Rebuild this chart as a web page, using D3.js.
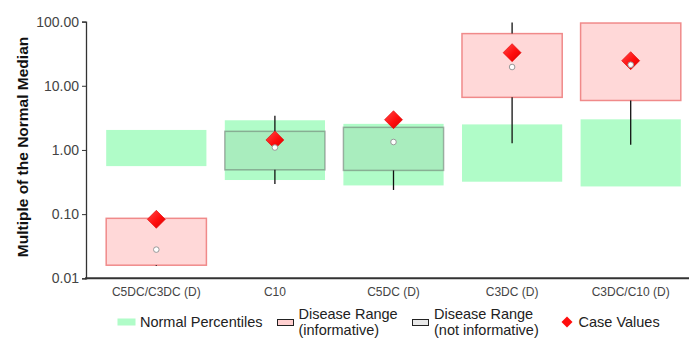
<!DOCTYPE html>
<html>
<head>
<meta charset="utf-8">
<script src="https://cdn.jsdelivr.net/npm/d3@7"></script>
<style>
  body { margin: 0; background: white; }
  svg { display: block; font-family: "Liberation Sans", Arial, sans-serif; }
</style>
</head>
<body>
<div id="chart"></div>
<script>
// Marker ranges per analyte
const categories = ["C5DC/C3DC (D)", "C10", "C5DC (D)", "C3DC (D)", "C3DC/C10 (D)"];
const normalLow = [0.56, 0.34, 0.28, 0.32, 0.27];
const normalHigh = [2.05, 2.9, 2.55, 2.5, 3.0];
const diseaseLow = [0.016, 0.49, 0.48, 6.6, 5.9];
const diseaseHigh = [0.086, 1.95, 2.25, 65, 95];
const diseaseMin = [0.0155, 0.295, 0.238, 1.27, 1.2];
const diseaseMax = [0.09, 3.4, 2.8, 97, 95];
const diseaseMedian = [0.028, 1.09, 1.33, 19.6, 21.3];
const informative = [true, false, false, true, true];
const caseValues = [0.083, 1.43, 2.96, 32.8, 24.6];
const yTicks = [0.01, 0.1, 1, 10, 100];

const width = 689;
const height = 338;

const colours = {
  normal: "#b0fcc8",
  infoFill: "#ffd8d8",
  infoStroke: "#f08a8a",
  notInfoFill: "rgba(110,110,110,0.1)",
  notInfoStroke: "rgba(90,90,90,0.45)",
  axis: "#333",
  text: "#444",
};

let svg = d3
  .select("#chart")
  .append("svg")
  .attr("width", width)
  .attr("height", height);

// gradient for the case value diamonds
let defs = svg.append("defs");
let grad = defs
  .append("linearGradient")
  .attr("id", "diamondGrad")
  .attr("x1", "0%")
  .attr("y1", "0%")
  .attr("x2", "100%")
  .attr("y2", "100%");
grad.append("stop").attr("offset", "0%").attr("stop-color", "#ff4a4a");
grad.append("stop").attr("offset", "55%").attr("stop-color", "#ff0d0d");
grad.append("stop").attr("offset", "100%").attr("stop-color", "#d80000");

const x = d3.scaleBand().domain(categories).range([97, 690]);
const y = d3.scaleLog().domain([0.01, 100]).range([278.3, 21.6]);

const boxWidth = x.bandwidth() * 0.845;
const cx = (d) => x(d) + x.bandwidth() / 2;

const rows = categories.map((c, i) => ({
  cat: c,
  nLow: normalLow[i],
  nHigh: normalHigh[i],
  dLow: diseaseLow[i],
  dHigh: diseaseHigh[i],
  dMin: diseaseMin[i],
  dMax: diseaseMax[i],
  median: diseaseMedian[i],
  info: informative[i],
  value: caseValues[i],
}));

// normal percentile bands
svg
  .append("g")
  .selectAll("rect")
  .data(rows)
  .enter()
  .append("rect")
  .attr("x", (d) => cx(d.cat) - boxWidth / 2)
  .attr("y", (d) => y(d.nHigh))
  .attr("width", boxWidth)
  .attr("height", (d) => y(d.nLow) - y(d.nHigh))
  .attr("fill", colours.normal);

// disease range boxes
svg
  .append("g")
  .selectAll("rect")
  .data(rows)
  .enter()
  .append("rect")
  .attr("x", (d) => cx(d.cat) - boxWidth / 2)
  .attr("y", (d) => y(d.dHigh))
  .attr("width", boxWidth)
  .attr("height", (d) => y(d.dLow) - y(d.dHigh))
  .attr("fill", (d) => (d.info ? colours.infoFill : colours.notInfoFill))
  .attr("stroke", (d) => (d.info ? colours.infoStroke : colours.notInfoStroke))
  .attr("stroke-width", 1.5);

// whiskers, outside the box only
let whiskers = svg.append("g").attr("stroke", "#111").attr("stroke-width", 1.3);
whiskers
  .selectAll(".upper")
  .data(rows.filter((d) => d.dMax > d.dHigh))
  .enter()
  .append("line")
  .attr("x1", (d) => cx(d.cat))
  .attr("x2", (d) => cx(d.cat))
  .attr("y1", (d) => y(d.dHigh))
  .attr("y2", (d) => y(d.dMax));
whiskers
  .selectAll(".lower")
  .data(rows.filter((d) => d.dMin < d.dLow))
  .enter()
  .append("line")
  .attr("x1", (d) => cx(d.cat))
  .attr("x2", (d) => cx(d.cat))
  .attr("y1", (d) => y(d.dLow))
  .attr("y2", (d) => y(d.dMin));

// axes
let yAxis = svg
  .append("g")
  .attr("transform", "translate(86,0)")
  .call(d3.axisLeft(y).tickValues(yTicks).tickFormat(d3.format(".2f")).tickSize(4).tickPadding(3));
yAxis.select(".domain").attr("stroke", colours.axis).attr("stroke-width", 1.3);
yAxis.selectAll(".tick line").attr("stroke", colours.axis);
yAxis
  .selectAll(".tick text")
  .attr("fill", colours.text)
  .style("font-size", "14px")
  .style("font-family", "'Liberation Sans', Arial, sans-serif");

svg
  .append("line")
  .attr("x1", 85)
  .attr("x2", 689)
  .attr("y1", y(0.01))
  .attr("y2", y(0.01))
  .attr("stroke", colours.axis)
  .attr("stroke-width", 2);

svg
  .append("g")
  .selectAll("text")
  .data(categories)
  .enter()
  .append("text")
  .attr("x", (d) => cx(d))
  .attr("y", 295.5)
  .attr("text-anchor", "middle")
  .attr("fill", colours.text)
  .style("font-size", "12px")
  .text((d) => d);

svg
  .append("text")
  .attr("transform", `translate(28,147) rotate(-90)`)
  .attr("text-anchor", "middle")
  .attr("fill", "#111")
  .style("font-size", "15.5px")
  .style("font-weight", "bold")
  .text("Multiple of the Normal Median");

// case value diamonds
const diamondR = 9;
svg
  .append("g")
  .selectAll("path")
  .data(rows)
  .enter()
  .append("path")
  .attr("d", `M0,${-diamondR}L${diamondR},0L0,${diamondR}L${-diamondR},0Z`)
  .attr("transform", (d) => `translate(${cx(d.cat)},${y(d.value)})`)
  .attr("fill", "url(#diamondGrad)")
  .attr("stroke", "#e00000")
  .attr("stroke-width", 0.6);

// disease medians
svg
  .append("g")
  .selectAll("circle")
  .data(rows)
  .enter()
  .append("circle")
  .attr("cx", (d) => cx(d.cat))
  .attr("cy", (d) => y(d.median))
  .attr("r", 2.8)
  .attr("fill", "white")
  .attr("stroke", "#999")
  .attr("stroke-width", 1);

// legend
let legend = svg.append("g").style("font-size", "14.5px").attr("fill", "#222");

legend
  .append("rect")
  .attr("x", 117.5)
  .attr("y", 318.5)
  .attr("width", 18)
  .attr("height", 7)
  .attr("fill", colours.normal);
legend.append("text").attr("x", 140).attr("y", 327.3).text("Normal Percentiles");

legend
  .append("rect")
  .attr("x", 277.5)
  .attr("y", 319.5)
  .attr("width", 16)
  .attr("height", 6)
  .attr("fill", "#ffd0d0")
  .attr("stroke", "#222")
  .attr("stroke-width", 1);
legend.append("text").attr("x", 298.5).attr("y", 318.7).text("Disease Range");
legend.append("text").attr("x", 298.5).attr("y", 335.3).text("(informative)");

legend
  .append("rect")
  .attr("x", 412.5)
  .attr("y", 319.5)
  .attr("width", 16)
  .attr("height", 6)
  .attr("fill", "#e8e8e8")
  .attr("stroke", "#222")
  .attr("stroke-width", 1);
legend.append("text").attr("x", 434).attr("y", 318.7).text("Disease Range");
legend.append("text").attr("x", 434).attr("y", 335.3).text("(not informative)");

legend
  .append("path")
  .attr("d", "M0,-5.5L5.5,0L0,5.5L-5.5,0Z")
  .attr("transform", "translate(567,322)")
  .attr("fill", "#ff0d0d");
legend.append("text").attr("x", 578.5).attr("y", 327.3).text("Case Values");
</script>
</body>
</html>
